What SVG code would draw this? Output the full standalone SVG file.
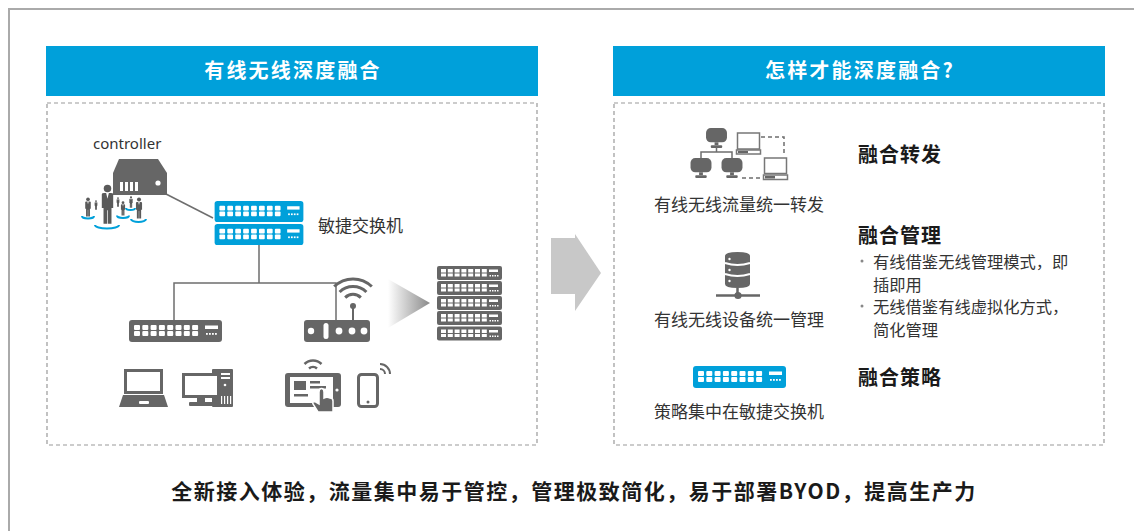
<svg xmlns="http://www.w3.org/2000/svg" xmlns:xlink="http://www.w3.org/1999/xlink" width="1134" height="531" viewBox="0 0 1134 531">
  <style>
    .frame { fill: none; stroke: #aaaaaa; stroke-width: 2; }
    .panel { fill: none; stroke: #999999; stroke-width: 1.2; stroke-dasharray: 4 3; }
    .head { fill: #00a0da; }
    .htxt { fill: #ffffff; font: bold 20px "Noto Sans CJK SC", "Noto Sans", sans-serif; letter-spacing: 2.2px; text-anchor: middle; }
    .lbl { fill: #333333; font: 17px "Noto Sans CJK SC", "Noto Sans", sans-serif; }
    .mid { text-anchor: middle; }
    .ttl { fill: #1a1a1a; font: bold 20px "Noto Sans CJK SC", "Noto Sans", sans-serif; letter-spacing: 1px; }
    .bul { fill: #333333; font: 16.3px "Noto Sans CJK SC", "Noto Sans", sans-serif; }
    .foot { fill: #1a1a1a; font: bold 21px "Noto Sans CJK SC", "Noto Sans", sans-serif; letter-spacing: 1.5px; text-anchor: middle; }
    .wire { fill: none; stroke: #6e6e6e; stroke-width: 1.5; }
    .dash { fill: none; stroke: #6e6e6e; stroke-width: 1.5; stroke-dasharray: 4 3; }
    .ico { fill: #666666; }
    .ol { fill: #ffffff; stroke: #666666; stroke-width: 3; }
    .ol2 { fill: #ffffff; stroke: #777777; stroke-width: 1.5; }
    .wifi { fill: none; stroke: #666666; stroke-width: 3; stroke-linecap: butt; }
    .ring { fill: none; stroke: #00a0da; stroke-width: 2; }
    .w { fill: #ffffff; }
  </style>
  <defs>
    <!-- 8-port switch body; colour comes from the use element -->
    <symbol id="sw" viewBox="0 0 93 22">
      <rect width="93" height="22" rx="3"/>
      <g class="w">
        <rect x="5" y="5" width="6" height="5" rx="1"/><rect x="5" y="11" width="6" height="5" rx="1"/>
        <rect x="13.3" y="5" width="6" height="5" rx="1"/><rect x="13.3" y="11" width="6" height="5" rx="1"/>
        <rect x="21.6" y="5" width="6" height="5" rx="1"/><rect x="21.6" y="11" width="6" height="5" rx="1"/>
        <rect x="29.9" y="5" width="6" height="5" rx="1"/><rect x="29.9" y="11" width="6" height="5" rx="1"/>
        <rect x="38.2" y="5" width="6" height="5" rx="1"/><rect x="38.2" y="11" width="6" height="5" rx="1"/>
        <rect x="46.5" y="5" width="6" height="5" rx="1"/><rect x="46.5" y="11" width="6" height="5" rx="1"/>
        <rect x="54.8" y="5" width="6" height="5" rx="1"/><rect x="54.8" y="11" width="6" height="5" rx="1"/>
        <rect x="63.1" y="5" width="6" height="5" rx="1"/><rect x="63.1" y="11" width="6" height="5" rx="1"/>
        <rect x="76" y="5.5" width="13" height="3.5"/>
        <rect x="77" y="13" width="1.8" height="1.8"/><rect x="80" y="13" width="1.8" height="1.8"/>
        <rect x="83" y="13" width="1.8" height="1.8"/><rect x="86" y="13" width="1.8" height="1.8"/>
      </g>
    </symbol>
    <!-- one rack unit of the server stack -->
    <symbol id="ru" viewBox="0 0 65 14">
      <rect width="65" height="14" rx="2"/>
      <g class="w">
        <rect x="4" y="3" width="5" height="3.5"/><rect x="4" y="7.5" width="5" height="3"/>
        <rect x="10.8" y="3" width="5" height="3.5"/><rect x="10.8" y="7.5" width="5" height="3"/>
        <rect x="17.6" y="3" width="5" height="3.5"/><rect x="17.6" y="7.5" width="5" height="3"/>
        <rect x="24.4" y="3" width="5" height="3.5"/><rect x="24.4" y="7.5" width="5" height="3"/>
        <rect x="31.2" y="3" width="5" height="3.5"/><rect x="31.2" y="7.5" width="5" height="3"/>
        <rect x="38" y="3" width="5" height="3.5"/><rect x="38" y="7.5" width="5" height="3"/>
        <rect x="44.8" y="3" width="5" height="3.5"/><rect x="44.8" y="7.5" width="5" height="3"/>
        <rect x="52" y="3.5" width="9" height="2.5"/>
        <rect x="52.5" y="9" width="1.5" height="1.5"/><rect x="55" y="9" width="1.5" height="1.5"/>
        <rect x="57.5" y="9" width="1.5" height="1.5"/><rect x="60" y="9" width="1.5" height="1.5"/>
      </g>
    </symbol>
    <!-- person in a suit -->
    <symbol id="man" viewBox="0 0 12 36">
      <circle cx="6" cy="4" r="3.3" fill="#5a5a5a"/>
      <path d="M1,9 Q1,8 3,8 L9,8 Q11,8 11,9 L11,21 L9.5,21 L9.5,35 L6.3,35 L6.3,23 L5.7,23 L5.7,35 L2.5,35 L2.5,21 L1,21 Z" fill="#5a5a5a"/>
      <path d="M4.8,8 L7.2,8 L6,13 Z" fill="#ffffff"/>
    </symbol>
    <!-- desktop monitor for the topology icon -->
    <symbol id="mon" viewBox="0 0 22 21">
      <rect width="22" height="15" rx="5"/>
      <rect x="9" y="15" width="4" height="3"/>
      <rect x="5" y="18" width="12" height="3" rx="1"/>
    </symbol>
    <linearGradient id="beam" x1="0" y1="0" x2="1" y2="0">
      <stop offset="0" stop-color="#ffffff"/>
      <stop offset="1" stop-color="#8a8a8a"/>
    </linearGradient>
  </defs>

  <rect width="1134" height="531" fill="#ffffff"/>
  <path class="frame" d="M9,531 V9 H1134"/>

  <!-- panel headers -->
  <g id="header-left">
    <rect class="head" x="46" y="46" width="492" height="50"/>
    <text class="htxt" x="293" y="78">有线无线深度融合</text>
  </g>
  <g id="header-right">
    <rect class="head" x="613" y="46" width="492" height="50"/>
    <text class="htxt" x="860" y="78">怎样才能深度融合?</text>
  </g>
  <rect class="panel" x="47" y="103" width="490" height="342"/>
  <rect class="panel" x="614" y="103" width="490" height="342"/>

  <!-- connectors -->
  <g id="connectors">
    <line class="wire" x1="166" y1="194" x2="213" y2="218"/>
    <path class="wire" d="M259,245 V283 M174,320 V283 H336 V320"/>
  </g>

  <g id="controller">
    <text class="lbl" x="93" y="149" style="font-family:'Noto Sans','Noto Sans CJK SC',sans-serif;font-size:15px">controller</text>
    <path class="ico" d="M119,159 L158,159 L167,173 L113,173 Z"/>
    <rect class="ico" x="113" y="173" width="54" height="22"/>
    <g class="w">
      <rect x="120" y="182" width="3" height="9"/><rect x="125" y="182" width="3" height="9"/>
      <rect x="130" y="182" width="3" height="9"/><rect x="135" y="182" width="3" height="9"/>
      <circle cx="158" cy="183" r="2.6"/>
    </g>
  </g>

  <g id="users">
    <path class="ring" d="M82,216 A6,2.5 0 0 0 94,216"/>
    <path class="ring" d="M117,215.5 A6,2.5 0 0 0 129,215.5"/>
    <path class="ring" d="M131,219 A7,2.8 0 0 0 146,219"/>
    <path class="ring" d="M126,208 A4,1.8 0 0 0 135,208"/>
    <path class="ring" d="M95,225 A12,3.6 0 0 0 119,225"/>
    <use href="#man" x="84" y="197" width="8" height="20"/>
    <use href="#man" x="94" y="200" width="4" height="10"/>
    <use href="#man" x="116" y="197" width="4" height="10"/>
    <use href="#man" x="119.5" y="201" width="7" height="15"/>
    <use href="#man" x="128.5" y="196" width="5" height="12"/>
    <use href="#man" x="134.5" y="197" width="9" height="22"/>
    <use href="#man" x="100" y="184" width="15" height="41"/>
  </g>

  <g id="agile-switch">
    <use href="#sw" x="212" y="201" width="94" height="21" fill="#00a0da"/>
    <use href="#sw" x="212" y="224" width="94" height="21" fill="#00a0da"/>
    <text class="lbl" x="318" y="232">敏捷交换机</text>
  </g>

  <g id="access-switch">
    <use href="#sw" x="128" y="320" width="95" height="22" fill="#666666"/>
  </g>

  <g id="access-point">
    <rect class="ico" x="304" y="320" width="66" height="22" rx="3"/>
    <g class="w">
      <circle cx="311" cy="331" r="3.2"/>
      <rect x="323.5" y="323" width="5" height="16" rx="2.5"/>
      <circle cx="339" cy="331" r="3.4"/>
      <circle cx="352" cy="331" r="3.4"/>
      <circle cx="364" cy="331" r="3.4"/>
    </g>
    <line x1="353" y1="306" x2="353" y2="320" stroke="#666666" stroke-width="2"/>
    <circle class="ico" cx="353" cy="306" r="3"/>
    <path class="wifi" d="M345.2,297.6 A11,11 0 0 1 360.8,297.6 M339.6,292 A19,19 0 0 1 366.4,292 M334.2,286.5 A27,27 0 0 1 371.8,286.5"/>
  </g>

  <g id="laptop">
    <rect class="ol" x="125.5" y="370.5" width="36" height="22"/>
    <path class="ico" d="M123,395 L164,395 L168,407 L119,407 Z"/>
    <rect class="w" x="139" y="401" width="10" height="3" rx="1"/>
  </g>

  <g id="desktop">
    <rect class="ico" x="212" y="369" width="21" height="38" rx="1"/>
    <g class="w">
      <rect x="221" y="373" width="9" height="2"/>
      <rect x="221" y="377" width="9" height="2"/>
      <circle cx="225" cy="385" r="1.3"/>
      <rect x="221" y="396" width="1.2" height="8"/>
      <rect x="224" y="396" width="1.2" height="8"/>
      <rect x="227" y="396" width="1.2" height="8"/>
      <rect x="230" y="396" width="1.2" height="8"/>
    </g>
    <rect class="ol" x="183.5" y="374.5" width="35" height="22"/>
    <rect class="ico" x="197" y="398" width="8" height="4"/>
    <rect class="ico" x="189" y="402" width="24" height="4" rx="1"/>
  </g>

  <g id="tablet">
    <path class="wifi" style="stroke-width:2.5" d="M309,368.5 A6,6 0 0 1 317,368.5 M304.5,364 A12,12 0 0 1 321.5,364"/>
    <rect class="ico" x="285" y="373" width="56" height="34" rx="3"/>
    <rect class="w" x="290" y="377" width="43" height="26"/>
    <rect class="ico" x="294" y="381" width="12" height="9"/>
    <rect class="ico" x="310" y="381" width="10" height="2.5"/>
    <rect class="ico" x="310" y="386" width="16" height="2.5"/>
    <rect class="ico" x="294" y="394" width="14" height="2.5"/>
    <circle class="w" cx="337" cy="390" r="1.6"/>
    <path d="M319,392 Q319,388.5 321.5,388.5 Q324,388.5 324,392 L324,398 Q327,396.5 330,398 Q333,398 333,401 L333,412 L318,412 L313,404 Q312,401.5 315,401.5 L319,404 Z" fill="#666666" stroke="#ffffff" stroke-width="1.5"/>
  </g>

  <g id="phone">
    <rect class="ol" x="358.5" y="374.5" width="19" height="32" rx="3"/>
    <circle class="ico" cx="368" cy="402" r="1.5"/>
    <path class="wifi" style="stroke-width:2" d="M380,369 A5,5 0 0 1 385,374 M380,364 A10,10 0 0 1 390,374"/>
  </g>

  <g id="server-rack">
    <polygon points="388,279 430,303 388,328" fill="url(#beam)"/>
    <use href="#ru" x="437" y="266" width="65" height="14" fill="#666666"/>
    <use href="#ru" x="437" y="281" width="65" height="14" fill="#666666"/>
    <use href="#ru" x="437" y="296" width="65" height="14" fill="#666666"/>
    <use href="#ru" x="437" y="311" width="65" height="14" fill="#666666"/>
    <use href="#ru" x="437" y="326" width="65" height="15" fill="#666666"/>
  </g>

  <g id="flow-arrow">
    <polygon points="551,238 575,238 575,234 601,273 575,311 575,294 551,294" fill="#c8c8c8"/>
  </g>

  <!-- right panel -->
  <g id="unified-forwarding">
    <use href="#mon" x="705" y="128" width="23" height="20" fill="#666666"/>
    <use href="#mon" x="690" y="158" width="22" height="20" fill="#666666"/>
    <use href="#mon" x="721" y="158" width="22" height="20" fill="#666666"/>
    <path class="wire" d="M716.5,147 V152 M701,158 V152 H732 V158"/>
    <rect class="ol2" x="737.5" y="133" width="22" height="16"/>
    <rect class="ol2" x="736.5" y="150" width="24" height="4"/>
    <rect class="ico" x="738" y="151" width="10" height="2"/>
    <rect class="ol2" x="764.5" y="158" width="22" height="15.5"/>
    <rect class="ol2" x="763.5" y="175" width="24" height="4.5"/>
    <rect class="ico" x="765" y="176" width="10" height="2.5"/>
    <path class="dash" d="M761,137 H784 V156 M742,178 H763"/>
    <text class="lbl mid" x="739" y="211">有线无线流量统一转发</text>
  </g>

  <g id="unified-management">
    <path class="ico" d="M725,256 Q725,252 737.5,252 Q750,252 750,256 L750,284 Q750,288 737.5,288 Q725,288 725,284 Z"/>
    <path d="M725,263 Q737.5,267 750,263 M725,274 Q737.5,278 750,274" fill="none" stroke="#ffffff" stroke-width="2"/>
    <g class="w">
      <circle cx="729.5" cy="259" r="1.2"/>
      <circle cx="729.5" cy="270" r="1.2"/>
      <circle cx="729.5" cy="281" r="1.2"/>
    </g>
    <line x1="737.5" y1="288" x2="737.5" y2="295" stroke="#666666" stroke-width="2.5"/>
    <line x1="716" y1="295.5" x2="760" y2="295.5" stroke="#666666" stroke-width="2.5"/>
    <circle class="ico" cx="738" cy="295.5" r="3.6"/>
    <text class="lbl mid" x="739" y="326">有线无线设备统一管理</text>
  </g>

  <g id="policy-switch">
    <use href="#sw" x="692" y="366" width="95" height="22" fill="#00a0da"/>
    <text class="lbl mid" x="739" y="418">策略集中在敏捷交换机</text>
  </g>

  <g id="notes">
    <text class="ttl" x="858" y="162">融合转发</text>
    <text class="ttl" x="858" y="243">融合管理</text>
    <circle cx="862" cy="261" r="1.5" fill="#888888"/>
    <text class="bul" x="873" y="267.5">有线借鉴无线管理模式，即</text>
    <text class="bul" x="873" y="290.5">插即用</text>
    <circle cx="862" cy="306" r="1.5" fill="#888888"/>
    <text class="bul" x="873" y="312.5">无线借鉴有线虚拟化方式，</text>
    <text class="bul" x="873" y="335.5">简化管理</text>
    <text class="ttl" x="858" y="385">融合策略</text>
  </g>

  <text class="foot" x="574" y="499">全新接入体验，流量集中易于管控，管理极致简化，易于部署BYOD，提高生产力</text>
</svg>
